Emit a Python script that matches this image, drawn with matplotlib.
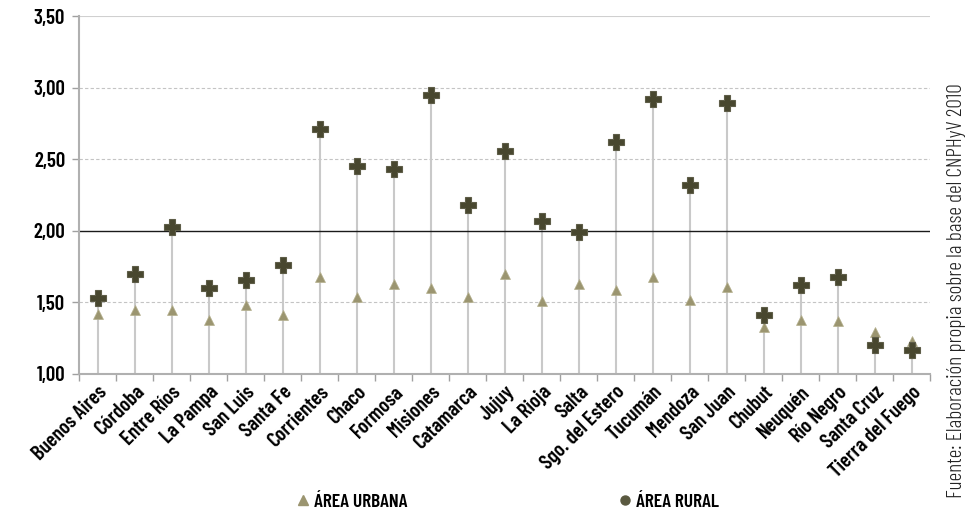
import matplotlib
matplotlib.use("Agg")
import matplotlib.pyplot as plt
from matplotlib.lines import Line2D
import numpy as np

provincias = ["Buenos Aires", "Córdoba", "Entre Ríos", "La Pampa", "San Luis", "Santa Fe",
              "Corrientes", "Chaco", "Formosa", "Misiones", "Catamarca", "Jujuy", "La Rioja",
              "Salta", "Sgo. del Estero", "Tucumán", "Mendoza", "San Juan", "Chubut",
              "Neuquén", "Río Negro", "Santa Cruz", "Tierra del Fuego"]
urbana = [1.42, 1.45, 1.45, 1.38, 1.48, 1.41, 1.68, 1.54, 1.63, 1.60, 1.54, 1.70, 1.51,
          1.63, 1.59, 1.68, 1.52, 1.61, 1.33, 1.38, 1.37, 1.29, 1.23]
rural = [1.53, 1.70, 2.03, 1.60, 1.66, 1.76, 2.71, 2.45, 2.43, 2.95, 2.18, 2.56, 2.07,
         1.99, 2.62, 2.92, 2.32, 2.89, 1.41, 1.62, 1.68, 1.20, 1.17]
yticks = [1.0, 1.5, 2.0, 2.5, 3.0, 3.5]
ytick_labels = ["1,00", "1,50", "2,00", "2,50", "3,00", "3,50"]

FONT = ["Barlow Condensed", "DejaVu Sans"]
plt.rcParams['font.family'] = FONT

fig = plt.figure(figsize=(9.66, 5.18), dpi=100)
ax = fig.add_axes([0.0818, 0.278, 0.881, 0.691])

x = np.arange(len(provincias))
top = np.maximum(urbana, rural)
ax.vlines(x, 1.0, top, color="#c9c9c9", lw=1.5, zorder=1)

for g in [1.5, 2.5, 3.0]:
    ax.axhline(g, color="#c4c4c4", lw=0.8, ls=(0, (3, 2)), zorder=0)
ax.axhline(3.5, color="#d0d0d0", lw=0.8, zorder=0)
ax.axhline(2.0, color="#1a1a1a", lw=1.0, zorder=2)

ax.plot(x, urbana, ls="none", marker="^", ms=6.5, color="#9b9570", mec="#b5b08e", mew=0.5, zorder=3)
ax.plot(x, rural, ls="none", marker="P", ms=11, color="#48472f", mec="#5e5d48", mew=0.8, zorder=4)

ax.set_xlim(-0.5, len(provincias) - 0.5)
ax.set_ylim(1.0, 3.5)
ax.set_yticks(yticks)
ax.set_yticklabels(ytick_labels, fontsize=15, fontweight=600)
ax.set_xticks(x)
ax.set_xticklabels(provincias, rotation=45, ha="right", rotation_mode="anchor",
                   fontsize=15, fontweight=600)
ax.tick_params(axis="x", which="major", length=0, pad=6)
ax.set_xticks(np.arange(-0.5, len(provincias) + 0.5, 1), minor=True)
ax.tick_params(axis="x", which="minor", length=5, color="#a0a0a0", width=1)
ax.tick_params(axis="y", length=5, color="#a0a0a0", width=1, pad=5)

for s in ["top", "right"]:
    ax.spines[s].set_visible(False)
for s in ["left", "bottom"]:
    ax.spines[s].set_color("#b0b0b0")
    ax.spines[s].set_linewidth(1.5)

handles = [Line2D([], [], ls="none", marker="^", ms=6.5, color="#9b9570", label="ÁREA URBANA"),
           Line2D([], [], ls="none", marker="o", ms=6.5, color="#5a5940", label="ÁREA RURAL")]
fig.legend(handles=handles, loc="center", bbox_to_anchor=(0.525, 0.03), ncol=2,
           frameon=False, columnspacing=10.8, handletextpad=0.15, handlelength=0.8,
           prop={"family": FONT, "weight": 600, "size": 14})

fig.text(0.99, 0.438, "Fuente: Elaboración propia sobre la base del CNPHyV 2010",
         rotation=90, ha="center", va="center", fontsize=15.5, fontweight=300, color="#222222")

fig.savefig("out.png", dpi=100)
